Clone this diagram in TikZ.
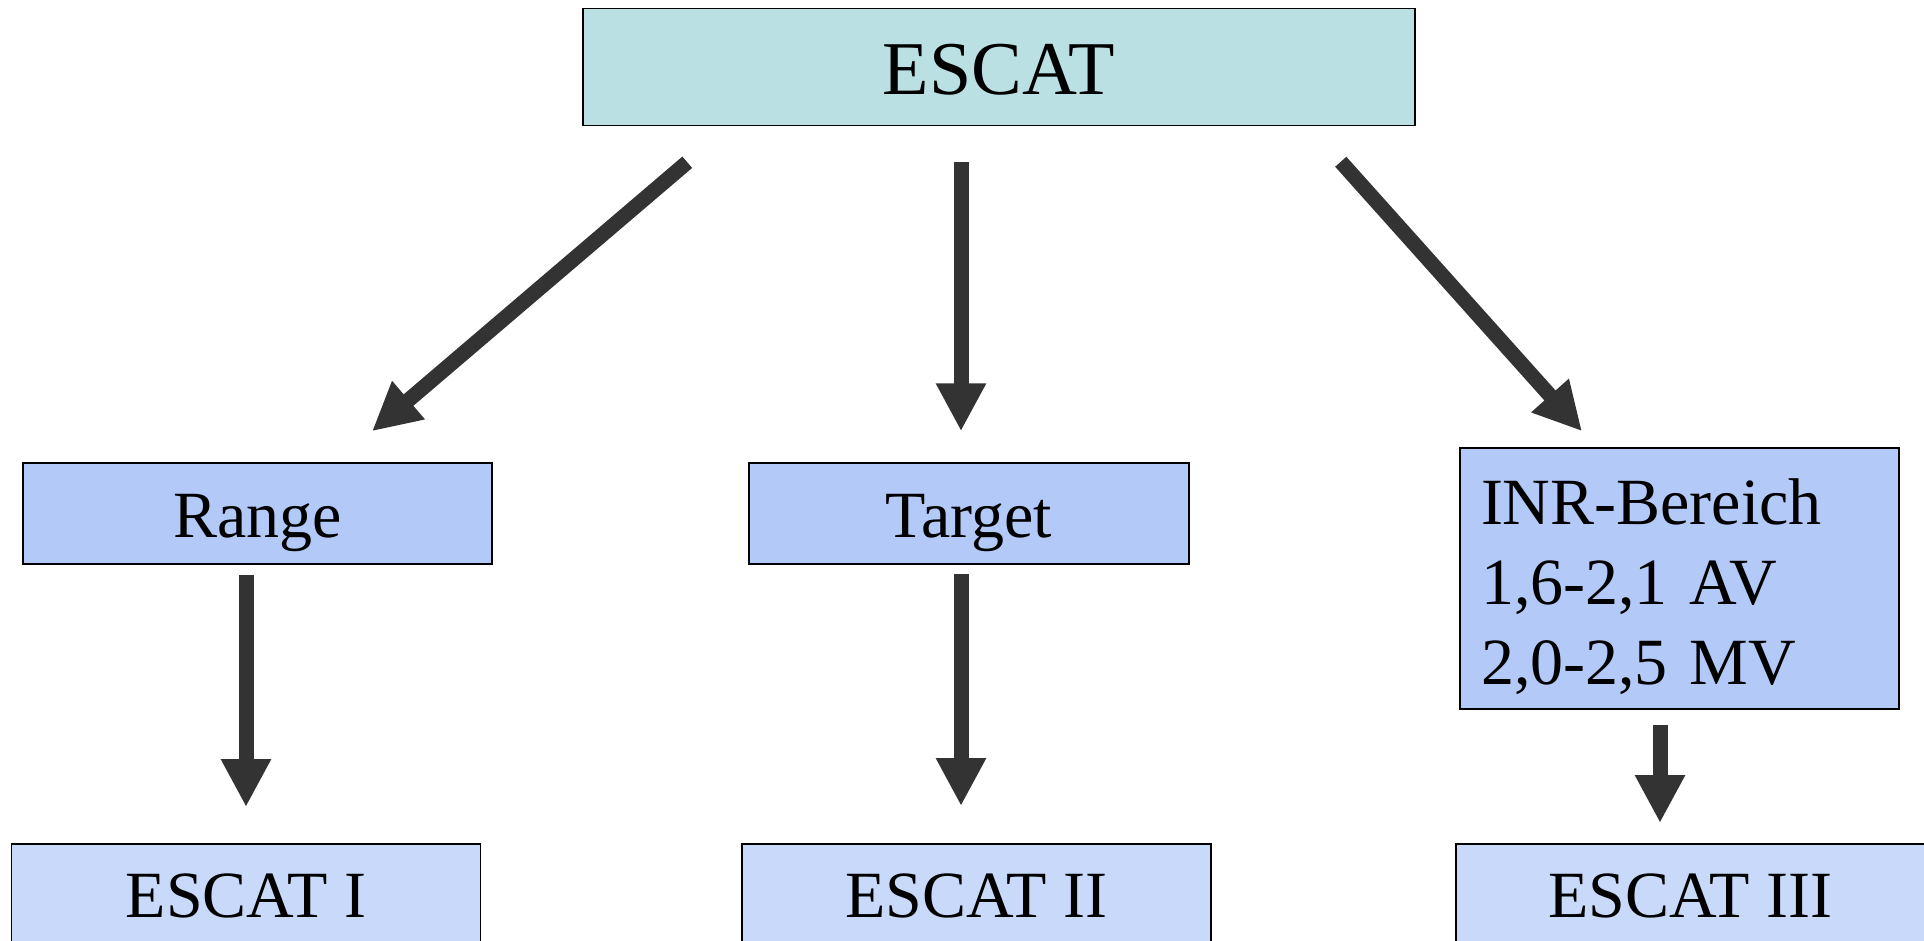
\documentclass[tikz,border=0pt]{standalone}
\usepackage{fontspec}
\setmainfont{Liberation Serif}
\usepackage{tikz}
\usetikzlibrary{arrows.meta, calc, positioning}
\definecolor{escatcyan}{HTML}{BAE0E4}
\definecolor{groupblue}{HTML}{B3C9F8}
\definecolor{classblue}{HTML}{C9D9FA}
\definecolor{arrowgrey}{HTML}{333333}
\tikzstyle{headbox} = [rectangle, draw=black, line width=1.5pt, fill=escatcyan, inner sep=0pt, minimum width=832pt, minimum height=117pt, text height=62pt, text depth=7pt, font=\fontsize{76}{90}\selectfont]
\tikzstyle{groupbox} = [rectangle, draw=black, line width=1.5pt, fill=groupblue, inner sep=0pt, minimum height=101pt, font=\fontsize{66}{80}\selectfont]
\tikzstyle{linebox} = [groupbox, text height=55pt, text depth=8pt]
\tikzstyle{classbox} = [linebox, fill=classblue, anchor=north, minimum width=469pt]
\tikzstyle{bigarrow} = [line width=15pt, draw=arrowgrey, -{Triangle[length=48pt, width=47pt]}]

\begin{document}
\begin{tikzpicture}[x=1pt, y=-1pt]
	\clip (0,0) rectangle (1924,941);
	\node (escat) [headbox] at (999,67) {ESCAT};
	\node (range) [linebox, minimum width=469pt] at (257.5,513.5) {Range};
	\node (target) [linebox, minimum width=440pt] at (969,513.5) {Target};
	\node (inr) [groupbox, minimum width=439pt, minimum height=261pt, text width=397pt, align=left] at (1679.5,578.5) {\rule{0pt}{62pt}INR-Bereich\\1,6-2,1 AV\\2,0-2,5 MV};
	\node (escatI) [classbox] at (246,843) {ESCAT I};
	\node (escatII) [classbox] at (976.5,843) {ESCAT II};
	\node (escatIII) [classbox] at (1690.5,843) {ESCAT III};
	% first level
	\draw[bigarrow] ($(escat.south west)+(105,36)$) -- ($(range.north)+(114.5,-31)$);
	\draw[bigarrow] ($(escat.south)+(-38,35.5)$) -- ($(target.north)+(-8,-31)$);
	\draw[bigarrow] ($(escat.south east)+(-75,35.5)$) -- ($(inr.north)+(-97.5,-16)$);
	% second level
	\draw[bigarrow] ($(range.south)+(-11.5,10)$) -- ($(escatI.north)+(0,-36)$);
	\draw[bigarrow] ($(target.south)+(-8,9)$) -- ($(escatII.north)+(-15.5,-37)$);
	\draw[bigarrow] ($(inr.south)+(-19.5,15)$) -- ($(escatIII.north)+(-30.5,-20)$);
\end{tikzpicture}
\end{document}
